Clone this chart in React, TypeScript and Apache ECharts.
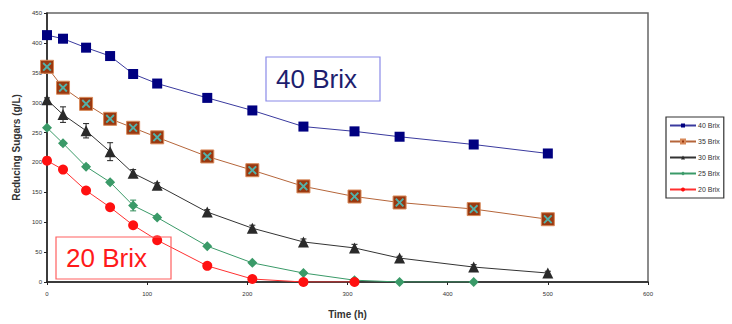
import React, { useEffect, useRef } from "react";
import * as echarts from "echarts";

const times = [0, 16, 39, 63, 86, 110, 160, 205, 256, 307, 352, 426, 500];
const brix40 = [413, 407, 392, 378, 348, 332, 308, 287, 260, 252, 243, 230, 215];
const brix35 = [360, 325, 298, 273, 258, 242, 210, 187, 160, 143, 133, 122, 105];
const brix30 = [305, 280, 253, 218, 182, 162, 117, 90, 67, 57, 40, 25, 15];
const brix25 = [258, 232, 193, 167, 128, 108, 60, 32, 15, 3, 0, 0];
const brix20 = [203, 188, 153, 125, 95, 70, 27, 5, 0, 0];
const err30 = [3, 13, 12, 15, 6, 4, 4, 5, 5, 6, 3, 4, 3];
const err25 = [2, 3, 3, 3, 9, 3, 2, 2, 2, 0, 0, 0];
const seriesNames = ["40 Brix", "35 Brix", "30 Brix", "25 Brix", "20 Brix"];

const pairs = (vals: number[]) => vals.map((v, i) => [times[i], v]);
const errData = (vals: number[], errs: number[]) =>
  vals.map((v, i) => [times[i], v - errs[i], v + errs[i]]);

const X_PATH =
  "path://M0,1.5 L1.5,0 L5,3.5 L8.5,0 L10,1.5 L6.5,5 L10,8.5 L8.5,10 L5,6.5 L1.5,10 L0,8.5 L3.5,5 Z";

function errRender(color: string) {
  return (params: any, api: any) => {
    const x = api.value(0);
    const lo = api.coord([x, api.value(1)]);
    const hi = api.coord([x, api.value(2)]);
    const w = 3;
    const style = { stroke: color, lineWidth: 1 };
    return {
      type: "group",
      children: [
        { type: "line", shape: { x1: lo[0], y1: lo[1], x2: hi[0], y2: hi[1] }, style },
        { type: "line", shape: { x1: lo[0] - w, y1: lo[1], x2: lo[0] + w, y2: lo[1] }, style },
        { type: "line", shape: { x1: hi[0] - w, y1: hi[1], x2: hi[0] + w, y2: hi[1] }, style },
      ],
    };
  };
}

export default function App() {
  const ref = useRef<HTMLDivElement>(null);
  useEffect(() => {
    if (!ref.current) return;
    const chart = echarts.init(ref.current, null, { renderer: "svg" });
    const font = "Arial, 'Liberation Sans', sans-serif";
    chart.setOption({
      animation: false,
      textStyle: { fontFamily: font },
      grid: {
        left: 47,
        right: 84,
        top: 13,
        bottom: 41,
        show: true,
        borderColor: "#666",
        borderWidth: 1.5,
        backgroundColor: "transparent",
      },
      legend: {
        data: seriesNames,
        orient: "vertical",
        left: 666,
        top: 117,
        width: 56,
        padding: [5, 4, 5, 3],
        itemGap: 9,
        itemWidth: 26,
        itemHeight: 5,
        borderColor: "#333",
        borderWidth: 1.2,
        textStyle: { fontSize: 7, color: "#333", padding: [0, 0, 0, -3] },
      },
      xAxis: {
        type: "value",
        min: 0,
        max: 600,
        interval: 100,
        name: "Time (h)",
        nameLocation: "middle",
        nameGap: 27,
        nameTextStyle: { fontSize: 10, fontWeight: "bold", color: "#333" },
        axisLine: { lineStyle: { color: "#222", width: 1.5 } },
        axisTick: { length: 3, lineStyle: { color: "#222" } },
        axisLabel: { fontSize: 6, color: "#333", margin: 9 },
        splitLine: { show: false },
      },
      yAxis: {
        type: "value",
        min: 0,
        max: 450,
        interval: 50,
        name: "Reducing Sugars (g/L)",
        nameLocation: "middle",
        nameGap: 22,
        nameTextStyle: { fontSize: 10, fontWeight: "bold", color: "#333" },
        axisLine: { show: true, lineStyle: { color: "#222", width: 1.5 } },
        axisTick: { show: true, length: 3, lineStyle: { color: "#222" } },
        axisLabel: { fontSize: 6, color: "#333", margin: 5 },
        splitLine: { show: false },
      },
      series: [
        {
          type: "custom",
          name: "err30",
          renderItem: errRender("#222"),
          data: errData(brix30, err30),
          z: 1,
          silent: true,
        },
        {
          type: "custom",
          name: "err25",
          renderItem: errRender("#2e8b57"),
          data: errData(brix25, err25),
          z: 1,
          silent: true,
        },
        {
          type: "line",
          name: "40 Brix",
          data: pairs(brix40),
          symbol: "rect",
          symbolSize: 10,
          itemStyle: { color: "#000080" },
          lineStyle: { color: "#3a3a9e", width: 1 },
        },
        {
          type: "line",
          name: "35 Brix",
          data: pairs(brix35),
          symbol: "rect",
          symbolSize: 13,
          itemStyle: { color: "#9a3810", borderColor: "#d88a5a", borderWidth: 1 },
          lineStyle: { color: "#b5653a", width: 1 },
        },
        {
          type: "scatter",
          name: "35x",
          data: pairs(brix35),
          symbol: X_PATH,
          symbolSize: 9,
          itemStyle: { color: "#40d0d0" },
          z: 5,
          silent: true,
        },
        {
          type: "line",
          name: "30 Brix",
          data: pairs(brix30),
          symbol: "triangle",
          symbolSize: 11,
          itemStyle: { color: "#2a2a2a" },
          lineStyle: { color: "#333", width: 1 },
        },
        {
          type: "line",
          name: "25 Brix",
          data: pairs(brix25),
          symbol: "diamond",
          symbolSize: 10,
          itemStyle: { color: "#3a9a68" },
          lineStyle: { color: "#3a9a68", width: 1 },
        },
        {
          type: "line",
          name: "20 Brix",
          data: pairs(brix20),
          symbol: "circle",
          symbolSize: 10,
          itemStyle: { color: "#ff1010" },
          lineStyle: { color: "#ff3030", width: 1 },
        },
      ],
      graphic: [
        {
          type: "rect",
          shape: { x: 266, y: 57, width: 114, height: 44 },
          style: { fill: "#fff", stroke: "#8a8ae8", lineWidth: 1.2 },
          z: 10,
        },
        {
          type: "text",
          x: 276,
          y: 79,
          style: {
            text: "40 Brix",
            fontSize: 26,
            fontFamily: font,
            fill: "#1e1e6e",
            verticalAlign: "middle",
          },
          z: 11,
        },
        {
          type: "rect",
          shape: { x: 56, y: 237, width: 115, height: 42 },
          style: { fill: "transparent", stroke: "#ff6060", lineWidth: 1.2 },
          z: 10,
        },
        {
          type: "text",
          x: 66,
          y: 258,
          style: {
            text: "20 Brix",
            fontSize: 26,
            fontFamily: font,
            fill: "#ff1a1a",
            verticalAlign: "middle",
          },
          z: 11,
        },
      ],
    });
    return () => chart.dispose();
  }, []);
  return (
    <div
      ref={ref}
      style={{ position: "fixed", left: 0, top: 0, width: 732, height: 324, background: "#fff" }}
    />
  );
}
